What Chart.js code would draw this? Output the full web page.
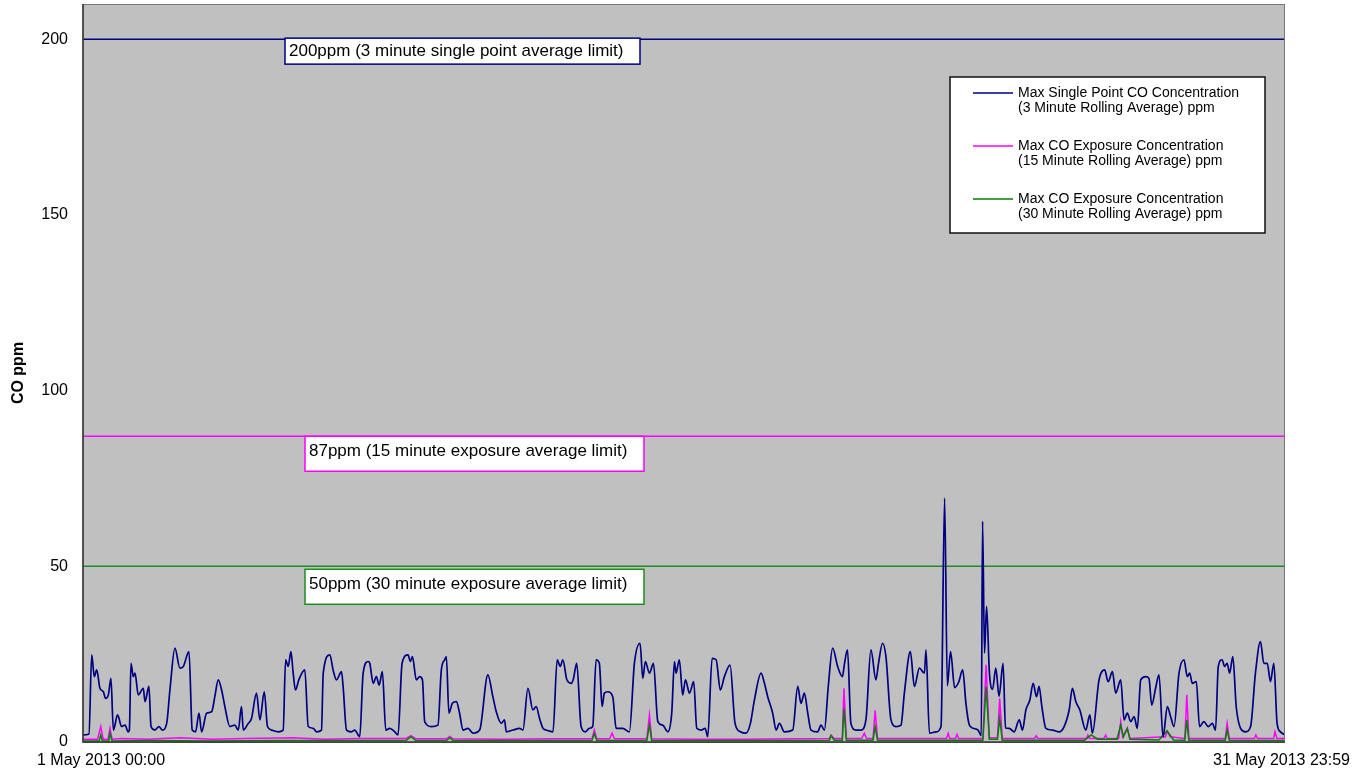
<!DOCTYPE html>
<html>
<head>
<meta charset="utf-8">
<title>CO ppm - May 2013</title>
<script src="https://cdn.jsdelivr.net/npm/chart.js@4.4.0/dist/chart.umd.min.js"></script>
<style>
  html, body { margin: 0; padding: 0; background: #fff; }
  #wrap { width: 1362px; height: 774px; }
</style>
</head>
<body>
<div id="wrap"><canvas id="coChart"></canvas></div>
<script>
// x values are hours since 1 May 2013 00:00, y values are ppm
const xLabels = ['1 May 2013 00:00', '31 May 2013 23:59'];
const hoursInMonth = 744;
const yTickValues = [0, 50, 100, 150, 200];
const yMax = 210;

const seriesNames = [
  ['Max Single Point CO Concentration', '(3 Minute Rolling Average) ppm'],
  ['Max CO Exposure Concentration', '(15 Minute Rolling Average) ppm'],
  ['Max CO Exposure Concentration', '(30 Minute Rolling Average) ppm']
];

const limitValues = [200, 87, 50];
const limitLabels = [
  '200ppm (3 minute single point average limit)',
  '87ppm (15 minute exposure average limit)',
  '50ppm (30 minute exposure average limit)'
];

// 3 minute rolling average (blue)
const singlePoint3min = [
  [0,2.0],[3.7,2.3],[5.4,24.8],[7.0,18.6],[8.5,20.5],[10.5,15.3],[12.6,14.3],[14.0,12.4],[15.7,13.4],[17.3,18.1],
  [18.8,3.4],[21.4,7.7],[23.9,4.4],[26.0,4.8],[28.0,2.9],[28.7,3.4],[29.7,22.4],[31.1,18.6],[32.2,19.6],[34.2,13.4],
  [37.3,15.3],[38.4,11.5],[40.8,15.8],[42.1,4.4],[44.5,3.4],[47.0,4.4],[49.1,3.4],[51.8,5.3],[53.8,14.8],[56.9,26.7],
  [60.0,21.0],[62.1,21.5],[65.6,25.7],[67.6,3.4],[69.7,2.9],[71.8,8.2],[73.4,2.9],[76.5,8.2],[79.6,8.6],[81.6,12.9],
  [83.7,17.7],[85.8,14.8],[87.8,10.1],[90.9,4.4],[94.0,4.8],[96.1,3.4],[98.1,10.1],[99.2,3.4],[102.3,5.3],[104.3,6.7],
  [107.4,13.9],[109.5,6.3],[112.2,14.3],[114.2,4.4],[116.7,3.4],[120.8,2.9],[123.9,3.4],[125.4,23.4],[127.0,21.5],[128.7,25.7],
  [130.1,19.6],[131.5,14.8],[133.6,17.7],[137.3,20.5],[139.4,4.4],[142.5,3.9],[144.5,2.9],[147.6,3.4],[148.7,19.6],[152.8,24.8],
  [154.8,20.5],[156.9,17.7],[160.0,20.0],[161.0,15.8],[163.1,3.4],[166.2,2.9],[168.2,3.4],[171.3,1.5],[173.4,19.6],[176.5,22.9],
  [177.5,22.4],[179.6,16.7],[181.6,18.6],[183.3,16.2],[185.3,20.0],[187.4,3.4],[189.9,3.9],[193.0,2.9],[195.0,2.0],[197.5,22.4],
  [201.2,24.8],[202.6,22.9],[203.9,24.3],[206.3,17.7],[208.4,18.6],[210.1,17.7],[211.5,5.8],[215.6,4.4],[219.7,4.8],[221.8,20.5],
  [223.9,23.4],[224.9,24.3],[226.5,8.2],[228.6,11.0],[231.1,11.5],[233.1,8.2],[235.2,3.4],[238.3,3.9],[241.4,2.5],[245.5,3.4],
  [250.6,19.1],[253.7,12.9],[255.8,8.6],[258.9,5.3],[260.9,6.3],[262.0,2.9],[266.1,3.4],[270.2,3.9],[272.3,3.4],[275.4,15.3],
  [278.5,9.1],[280.5,10.1],[282.6,6.7],[284.7,3.9],[286.7,3.4],[290.9,2.9],[293.5,23.4],[295.4,21.5],[297.0,23.4],[299.5,17.7],
  [302.2,16.7],[303.6,18.1],[305.6,22.4],[308.3,4.4],[311.0,2.9],[313.4,3.9],[315.5,4.4],[317.6,23.4],[319.6,22.4],[321.3,10.1],
  [322.7,13.9],[324.8,14.3],[327.9,12.9],[330.0,3.9],[334.1,3.9],[338.2,2.9],[341.3,22.4],[344.8,28.1],[346.5,18.1],[348.1,22.9],
  [350.6,19.6],[353.1,22.4],[355.8,5.8],[358.8,4.8],[362.0,2.9],[364.4,8.2],[366.1,22.9],[367.1,19.6],[369.1,23.4],[371.2,13.4],
  [372.9,17.7],[375.4,13.9],[378.0,17.2],[379.9,3.9],[382.6,3.4],[385.1,3.9],[386.7,1.5],[389.4,23.8],[391.9,23.4],[394.5,14.8],
  [397.0,18.6],[400.5,21.9],[403.6,5.3],[406.9,2.9],[410.4,2.5],[413.1,5.3],[415.6,12.0],[419.7,19.6],[421.8,16.7],[423.8,12.9],
  [426.9,8.2],[429.0,3.4],[431.1,5.3],[434.1,2.9],[439.3,3.4],[442.4,15.8],[444.4,11.0],[446.5,13.9],[448.6,8.2],[450.6,3.4],
  [454.7,2.9],[456.8,4.8],[458.9,3.4],[461.3,15.8],[464.0,26.7],[467.1,21.5],[470.1,18.6],[471.2,21.9],[473.2,26.2],[475.3,5.3],
  [478.4,3.4],[481.5,3.4],[484.6,6.3],[487.7,26.2],[490.8,17.7],[492.4,22.4],[494.9,28.1],[497.0,24.3],[500.1,6.3],[503.2,4.4],
  [506.3,4.8],[508.4,13.9],[512.1,25.7],[514.6,15.8],[517.7,21.0],[520.8,19.6],[521.8,26.2],[523.9,2.5],[528.0,2.9],[531.1,4.4],
  [533.3,69.4],[535.0,16.0],[537.0,25.7],[539.5,15.5],[542.0,17.0],[544.5,20.5],[546.5,11.0],[548.5,5.0],[551.0,3.9],[554.0,3.4],
  [556.0,1.8],[556.8,62.8],[558.0,25.3],[559.3,38.6],[561.0,20.0],[563.0,15.0],[565.0,21.0],[567.0,13.0],[569.5,22.4],[571.0,4.0],
  [573.3,3.9],[576.4,2.9],[579.5,6.3],[581.5,3.4],[583.6,9.1],[586.1,12.0],[588.1,16.7],[590.2,12.9],[591.8,15.8],[593.5,10.1],
  [596.0,3.9],[600.1,3.4],[604.2,2.9],[607.3,4.4],[610.4,9.1],[612.4,15.3],[614.5,11.5],[617.0,9.1],[620.7,3.4],[623.2,7.7],
  [624.8,2.5],[628.9,17.7],[632.4,20.5],[634.5,17.2],[637.2,20.0],[639.2,13.9],[642.3,17.7],[644.4,6.3],[646.4,8.2],[648.5,5.8],
  [650.6,7.2],[652.6,3.9],[654.7,17.7],[657.8,18.6],[659.8,18.1],[661.5,10.5],[663.9,15.3],[666.0,19.1],[668.5,1.5],[671.2,10.1],
  [673.2,7.2],[675.3,4.4],[678.4,19.6],[681.5,23.4],[683.5,18.6],[685.0,19.6],[686.6,16.7],[689.1,17.2],[691.1,4.4],[693.8,5.8],
  [696.5,4.4],[699.0,5.3],[701.0,3.4],[702.7,21.5],[705.1,23.4],[706.6,21.5],[708.2,22.4],[709.7,19.6],[711.7,24.3],[713.8,10.1],
  [716.5,3.9],[719.6,2.9],[722.7,4.4],[725.7,19.6],[728.8,28.6],[730.9,22.4],[733.0,22.4],[735.0,17.2],[737.1,22.4],[739.1,5.3],
  [741.2,2.9],[744,2.0]
];

// 15 minute rolling average (magenta)
const exposure15min = [
  [0,0.8],[9,0.8],[11,4.4],[12.5,0.8],[15.5,0.8],[16.7,3.9],[18,0.8],[24,1.0],[40,0.8],[60,1.2],[80,0.8],[100,1.0],
  [130,1.2],[150,0.8],[170,1.0],[200,1.0],[203,1.8],[206,0.9],[225,0.9],[227,1.6],[229,0.9],[260,0.8],[290,0.9],
  [315,0.9],[316.5,3.4],[318,0.9],[326,0.9],[327.5,2.5],[329,0.9],[349,0.9],[350.6,7.7],[352,0.9],[380,0.8],[410,0.8],
  [440,0.9],[462,1.0],[463,2.0],[465,1.0],[470,1.0],[471,15.3],[472.5,1.0],[482,1.0],[483.6,2.5],[485,1.0],[489,1.0],
  [490.3,9.0],[491.8,1.0],[520,1.0],[534.5,1.0],[535.5,2.5],[536.5,1.0],[540,1.0],[541,2.2],[542,1.0],[557,1.0],
  [559,22.0],[561,1.2],[566,1.2],[567.4,12.4],[569,1.0],[589,1.0],[590,1.8],[591,1.0],[621,1.0],[622,2.0],[623,1.0],
  [632,1.0],[633,2.0],[634,1.0],[641,1.0],[642.3,5.8],[643.5,1.5],[646.4,4.0],[648,1.0],[670,1.5],[671,3.0],[673,1.5],
  [682,1.0],[683.2,13.4],[684.5,1.0],[707,1.0],[708.2,5.3],[709.5,1.0],[725,1.0],[726,2.0],[727,1.0],[737,1.0],
  [737.8,2.9],[739,1.0],[744,1.0]
];

// 30 minute rolling average (green)
const exposure30min = [
  [0,0.3],[10,0.3],[11,2.0],[12,0.3],[16,0.3],[16.7,2.5],[18,0.3],[40,0.4],[80,0.3],[120,0.4],[200,0.4],[203,1.5],
  [206,0.4],[225,0.4],[227,1.2],[229,0.4],[315,0.4],[316.5,2.4],[318,0.4],[349,0.4],[350.6,4.8],[352,0.4],[440,0.4],
  [462,0.5],[463,1.8],[465,0.5],[470,0.5],[471,9.6],[472.5,0.5],[489,0.5],[490.3,4.4],[491.8,0.5],[557,0.5],[559,15.8],
  [561,0.8],[566,0.8],[567.4,6.7],[569,0.5],[620,0.5],[624,2.0],[628,0.8],[640,0.8],[642.3,4.8],[644,1.5],[646.4,3.8],
  [648,0.8],[666,0.6],[671,3.2],[675,0.6],[682,0.5],[683.2,6.3],[684.5,0.5],[707,0.5],[708.2,3.4],[709.5,0.5],[744,0.4]
];

const lineColors = ['#000080', '#ff00ff', '#008000'];
const limitColors = ['#000080', '#ff00ff', '#1e8c1e'];
const fontFamily = '"Liberation Sans", Arial, sans-serif';

function toPoints(arr) {
  return arr.map(p => ({ x: p[0], y: p[1] }));
}

function limitLine(v, color) {
  return {
    label: 'limit ' + v,
    data: [{ x: 0, y: v }, { x: hoursInMonth, y: v }],
    borderColor: color,
    borderWidth: 1.5,
    pointRadius: 0,
    order: 5
  };
}

// grey plot background + frame
const plotBackground = {
  id: 'plotBackground',
  beforeDraw(chart) {
    const { ctx, chartArea: a } = chart;
    ctx.save();
    ctx.fillStyle = '#c0c0c0';
    ctx.fillRect(a.left, a.top, a.right - a.left, a.bottom - a.top);
    ctx.restore();
  },
  afterDraw(chart) {
    const { ctx, chartArea: a } = chart;
    ctx.save();
    ctx.strokeStyle = '#777';
    ctx.lineWidth = 1;
    ctx.strokeRect(a.left, a.top + 0.5, a.right - a.left - 0.5, a.bottom - a.top);
    ctx.strokeStyle = '#333';
    ctx.lineWidth = 1.5;
    ctx.beginPath();
    ctx.moveTo(a.left, a.top);
    ctx.lineTo(a.left, a.bottom);
    ctx.lineTo(a.right, a.bottom);
    ctx.stroke();
    ctx.restore();
  }
};

// limit labels, legend box and the two date labels
const annotations = {
  id: 'annotations',
  afterDatasetsDraw(chart) {
    const { ctx, chartArea: a, scales } = chart;
    const y = scales.y;
    ctx.save();
    ctx.textBaseline = 'middle';
    ctx.textAlign = 'left';

    // limit boxes
    const boxes = [
      { left: 202, dy: -1, w: 355, h: 26, ty: 13 },
      { left: 222, dy: 0, w: 339, h: 35, ty: 15 },
      { left: 222, dy: 3, w: 339, h: 35, ty: 15 }
    ];
    limitValues.forEach((v, i) => {
      const b = boxes[i];
      const bx = a.left + b.left;
      const by = y.getPixelForValue(v) + b.dy;
      ctx.fillStyle = '#fff';
      ctx.fillRect(bx, by, b.w, b.h);
      ctx.strokeStyle = limitColors[i];
      ctx.lineWidth = 1.5;
      ctx.strokeRect(bx, by, b.w, b.h);
      ctx.fillStyle = '#000';
      ctx.font = '17px ' + fontFamily;
      ctx.fillText(limitLabels[i], bx + 4, by + b.ty);
    });

    // legend
    const lx = a.right - 335, ly = a.top + 73;
    ctx.fillStyle = '#fff';
    ctx.fillRect(lx, ly, 315, 156);
    ctx.strokeStyle = '#111';
    ctx.lineWidth = 1.5;
    ctx.strokeRect(lx, ly, 315, 156);
    ctx.font = '14px ' + fontFamily;
    seriesNames.forEach((name, i) => {
      const rowY = ly + 16 + i * 53;
      ctx.strokeStyle = lineColors[i];
      ctx.lineWidth = 1.3;
      ctx.beginPath();
      ctx.moveTo(lx + 23, rowY);
      ctx.lineTo(lx + 63, rowY);
      ctx.stroke();
      ctx.fillStyle = '#000';
      ctx.fillText(name[0], lx + 68, rowY);
      ctx.fillText(name[1], lx + 68, rowY + 15);
    });

    // x axis end labels
    ctx.font = '16px ' + fontFamily;
    ctx.fillStyle = '#000';
    ctx.textAlign = 'left';
    ctx.fillText(xLabels[0], a.left - 46, a.bottom + 19);
    ctx.textAlign = 'right';
    ctx.fillText(xLabels[1], a.right + 65, a.bottom + 19);
    ctx.restore();
  }
};

const ctx = document.getElementById('coChart').getContext('2d');
const coChart = new Chart(ctx, {
  type: 'line',
  data: {
    datasets: [
      {
        label: seriesNames[0].join(' '),
        data: toPoints(singlePoint3min),
        borderColor: lineColors[0],
        borderWidth: 1.7,
        pointRadius: 0,
        cubicInterpolationMode: 'monotone',
        order: 1
      },
      {
        label: seriesNames[2].join(' '),
        data: toPoints(exposure30min),
        borderColor: lineColors[2],
        borderWidth: 1.5,
        pointRadius: 0,
        order: 2
      },
      {
        label: seriesNames[1].join(' '),
        data: toPoints(exposure15min),
        borderColor: lineColors[1],
        borderWidth: 1.5,
        pointRadius: 0,
        order: 3
      },
      limitLine(limitValues[0], limitColors[0]),
      limitLine(limitValues[1], limitColors[1]),
      limitLine(limitValues[2], limitColors[2])
    ]
  },
  options: {
    responsive: true,
    maintainAspectRatio: false,
    animation: false,
    layout: { padding: { top: 4, right: 77, left: 0, bottom: 0 } },
    plugins: {
      legend: { display: false },
      tooltip: { enabled: false }
    },
    scales: {
      x: {
        type: 'linear',
        min: 0,
        max: hoursInMonth,
        ticks: { display: false },
        grid: { display: false },
        border: { display: false },
        afterFit(scale) {
          scale.height = 32;
          scale.paddingLeft = 0;
          scale.paddingRight = 0;
        }
      },
      y: {
        min: 0,
        max: yMax,
        afterBuildTicks(scale) {
          scale.ticks = yTickValues.map(v => ({ value: v }));
        },
        ticks: {
          color: '#000',
          padding: 15,
          font: { family: fontFamily, size: 16 }
        },
        grid: { display: true, drawOnChartArea: false, drawTicks: false },
        border: { display: false },
        title: {
          display: true,
          text: 'CO ppm',
          color: '#000',
          padding: { top: 9, bottom: 0 },
          font: { family: fontFamily, size: 16, weight: 'bold' }
        },
        afterFit(scale) {
          scale.width = 83;
          scale.paddingTop = 0;
          scale.paddingBottom = 0;
        }
      }
    }
  },
  plugins: [plotBackground, annotations]
});
</script>
</body>
</html>
